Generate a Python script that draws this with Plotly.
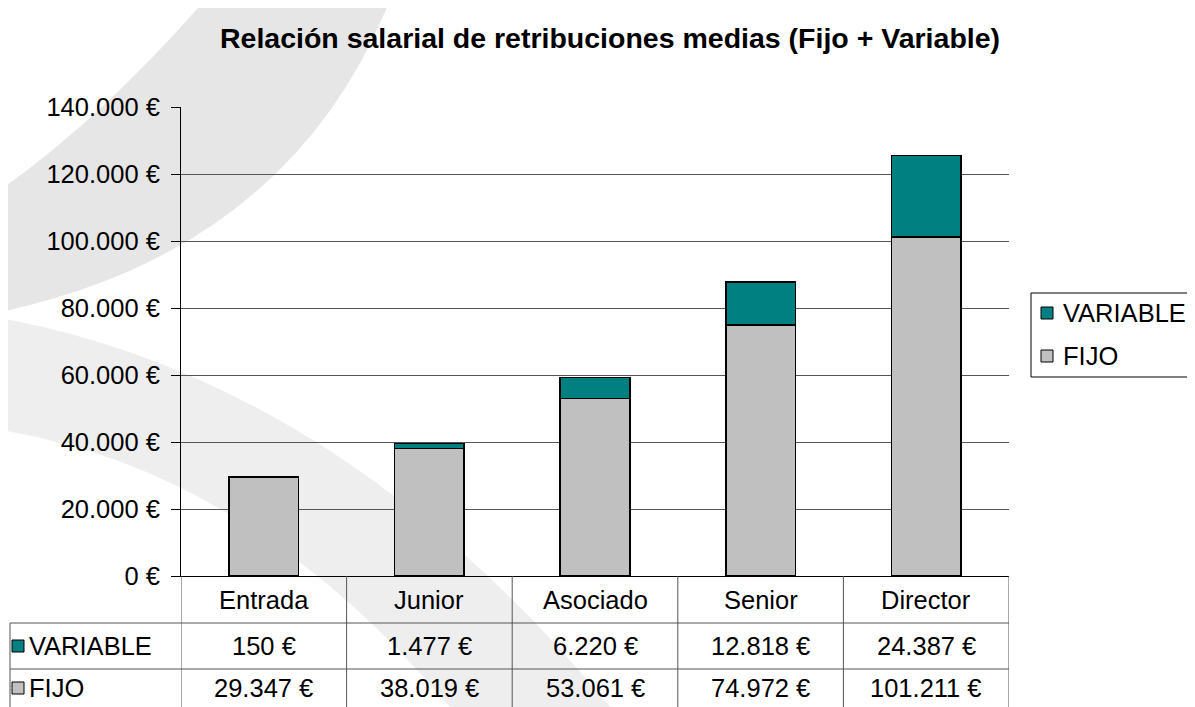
import plotly.graph_objects as go

categories = ["Entrada", "Junior", "Asociado", "Senior", "Director"]
fijo = [29347, 38019, 53061, 74972, 101211]
variable = [150, 1477, 6220, 12818, 24387]
fijo_labels = ["29.347 €", "38.019 €", "53.061 €", "74.972 €", "101.211 €"]
variable_labels = ["150 €", "1.477 €", "6.220 €", "12.818 €", "24.387 €"]
y_ticks = [0, 20000, 40000, 60000, 80000, 100000, 120000, 140000]
y_tick_labels = ["0 €", "20.000 €", "40.000 €", "60.000 €", "80.000 €", "100.000 €", "120.000 €", "140.000 €"]
series_names = ["VARIABLE", "FIJO"]
title = "Relación salarial de retribuciones medias (Fijo + Variable)"

# page offset (browser body margin)
OFF = 8
IW, IH = 1195, 707
W, H = IW - OFF, IH - OFF
# plot area in image pixels
L, R, T, B = 181, 1009, 107, 576
FONT = "Liberation Sans, Arial, sans-serif"
FS = 25.5
C_FIJO = "#C0C0C0"
C_VAR = "#008080"
LINE = "#555555"
series_colors = [C_VAR, C_FIJO]


def px(x):
    return (x - L) / (R - L)


def py(y):
    return (B - y) / (B - T)


fig = go.Figure()
fig.add_trace(go.Bar(x=categories, y=fijo, name="FIJO", showlegend=False,
                     marker=dict(color=C_FIJO, line=dict(color="black", width=1.5)), width=0.42))
fig.add_trace(go.Bar(x=categories, y=variable, name="VARIABLE", showlegend=False,
                     marker=dict(color=C_VAR, line=dict(color="black", width=1.5)), width=0.42))

shapes = []
# watermark swooshes (decorative background)
p1 = (f"M {px(390)},{py(0)} Q {px(290)},{py(250)} {px(0)},{py(312)} "
      f"L {px(0)},{py(190)} Q {px(100)},{py(120)} {px(205)},{py(0)} Z")
p2 = (f"M {px(0)},{py(318)} Q {px(340)},{py(380)} {px(610)},{py(707)} "
      f"L {px(450)},{py(707)} Q {px(250)},{py(470)} {px(0)},{py(430)} Z")
shapes.append(dict(type="path", path=p1, xref="paper", yref="paper", fillcolor="#e6e6e6", line=dict(width=0), layer="below"))
shapes.append(dict(type="path", path=p2, xref="paper", yref="paper", fillcolor="#eeeeee", line=dict(width=0), layer="below"))

# table grid
ybot = py(707)
yr1 = py(623)
yr2 = py(669)
n = len(categories)
for k in range(n + 1):
    shapes.append(dict(type="line", xref="x", yref="paper", x0=k - 0.5, x1=k - 0.5, y0=0, y1=ybot, line=dict(color=LINE, width=1)))
shapes.append(dict(type="line", xref="paper", yref="paper", x0=px(10), x1=px(10), y0=yr1, y1=ybot, line=dict(color=LINE, width=1)))
for yy in (yr1, yr2):
    shapes.append(dict(type="line", xref="paper", yref="paper", x0=px(10), x1=1, y0=yy, y1=yy, line=dict(color=LINE, width=1)))

tf = dict(size=FS, color="black", family=FONT)
annotations = []
# table row keys and labels
for (yc, col, name) in zip((646, 688), series_colors, series_names):
    shapes.append(dict(type="rect", xref="paper", yref="paper", x0=px(12), x1=px(24), y0=py(yc + 6), y1=py(yc - 6),
                       fillcolor=col, line=dict(color="black", width=1)))
    annotations.append(dict(x=px(27), y=py(yc), xref="paper", yref="paper", text=name, showarrow=False,
                            xanchor="left", yanchor="middle", font=tf))
for i, c in enumerate(categories):
    annotations.append(dict(x=c, y=py(600), xref="x", yref="paper", text=c, showarrow=False, font=tf, yanchor="middle"))
    annotations.append(dict(x=c, y=py(646), xref="x", yref="paper", text=variable_labels[i], showarrow=False, font=tf, yanchor="middle"))
    annotations.append(dict(x=c, y=py(688), xref="x", yref="paper", text=fijo_labels[i], showarrow=False, font=tf, yanchor="middle"))

# legend box (right side, cut by the edge as in the original)
shapes.append(dict(type="rect", xref="paper", yref="paper", x0=px(1031), x1=px(1215), y0=py(377), y1=py(293),
                   fillcolor="white", line=dict(color="black", width=1)))
for (yc, col, name) in zip((313, 356), series_colors, series_names):
    shapes.append(dict(type="rect", xref="paper", yref="paper", x0=px(1041), x1=px(1053), y0=py(yc + 6), y1=py(yc - 6),
                       fillcolor=col, line=dict(color="black", width=1)))
    annotations.append(dict(x=px(1061), y=py(yc), xref="paper", yref="paper", text=name, showarrow=False,
                            xanchor="left", yanchor="middle", font=tf))

fig.update_layout(
    width=W, height=H,
    margin=dict(l=L - OFF, r=W - (R - OFF), t=T - OFF, b=H - (B - OFF), pad=0, autoexpand=False),
    paper_bgcolor="white",
    plot_bgcolor="rgba(0,0,0,0)",
    barmode="stack",
    showlegend=False,
    font=dict(family=FONT, size=FS, color="black"),
    title=dict(text="<b>" + title + "</b>", x=(610 - OFF) / W, xanchor="center", xref="container",
               y=1 - (38 - OFF) / H, yanchor="middle", yref="container", font=dict(size=28.5, family=FONT, color="black")),
    xaxis=dict(range=[-0.5, n - 0.5], showticklabels=False, ticks="", showgrid=False, showline=True, linecolor="black", linewidth=1, zeroline=False, fixedrange=True),
    yaxis=dict(range=[0, 140000], tickvals=y_ticks, ticktext=y_tick_labels, ticks="outside", ticklen=9, tickcolor="black", tickwidth=1,
               showgrid=True, gridcolor=LINE, gridwidth=1, showline=True, linecolor="black", linewidth=1, zeroline=False,
               tickfont=dict(size=FS, family=FONT, color="black"), ticklabelstandoff=6),
    shapes=shapes,
    annotations=annotations,
)

fig.write_html("out.html")
